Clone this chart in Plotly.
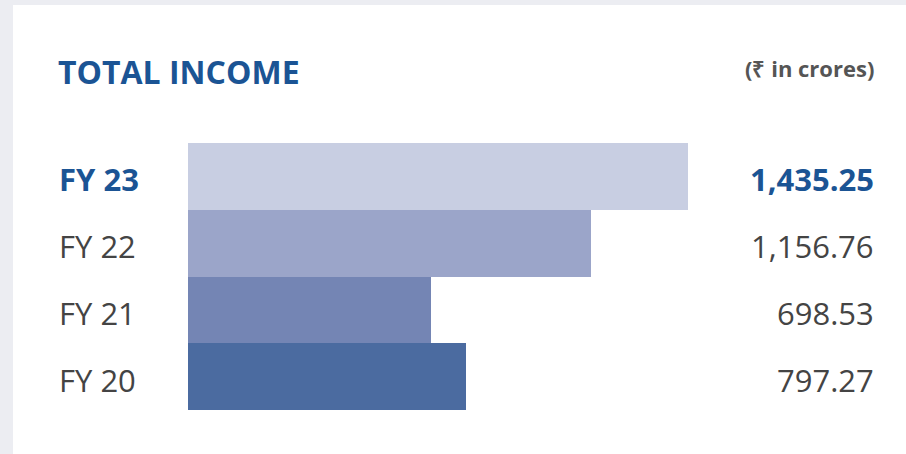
import plotly.graph_objects as go

categories = ["FY 20", "FY 21", "FY 22", "FY 23"]
values = [797.27, 698.53, 1156.76, 1435.25]
value_labels = ["797.27", "698.53", "1,156.76", "1,435.25"]
bar_colors = ["#4B6BA0", "#7485B4", "#9BA5C9", "#C8CEE2"]
highlight = "FY 23"

W, H = 906, 454
BLUE = "#1B5494"
GREY = "#444444"
FONT = "Open Sans"

fig = go.Figure()
fig.add_trace(go.Bar(
    y=categories, x=values, orientation="h",
    marker=dict(color=bar_colors, line=dict(width=0)),
    hoverinfo="skip", showlegend=False,
))

annotations = []
for cat, lab in zip(categories, value_labels):
    hl = cat == highlight
    annotations.append(dict(
        xref="paper", yref="y", x=57 / W, y=cat, xanchor="left", yanchor="middle",
        yshift=-3, text=f"<b>{cat}</b>" if hl else cat, showarrow=False,
        font=dict(family=FONT, size=31, color=BLUE if hl else GREY)))
    annotations.append(dict(
        xref="paper", yref="y", x=876 / W, y=cat, xanchor="right", yanchor="middle",
        yshift=-3, text=f"<b>{lab}</b>" if hl else lab, showarrow=False,
        font=dict(family=FONT, size=31, color=BLUE if hl else GREY)))

annotations.append(dict(
    xref="paper", yref="paper", x=56 / W, y=1 - 71 / H, xanchor="left", yanchor="middle",
    text="<b>TOTAL INCOME</b>", showarrow=False,
    font=dict(family=FONT, size=32, color=BLUE)))
annotations.append(dict(
    xref="paper", yref="paper", x=876 / W, y=1 - 68 / H, xanchor="right", yanchor="middle",
    text="<b>(₹ in crores)</b>", showarrow=False,
    font=dict(family=FONT, size=22, color="#555555")))

shapes = [
    dict(type="rect", xref="paper", yref="paper", x0=0, x1=1, y0=1 - 5 / H, y1=1,
         fillcolor="#ECEDF2", line=dict(width=0), layer="below"),
    dict(type="rect", xref="paper", yref="paper", x0=0, x1=13 / W, y0=0, y1=1,
         fillcolor="#ECEDF2", line=dict(width=0), layer="below"),
]

fig.update_layout(
    width=W, height=H, autosize=False,
    margin=dict(l=0, r=0, t=0, b=0),
    paper_bgcolor="white", plot_bgcolor="rgba(0,0,0,0)",
    bargap=0,
    xaxis=dict(domain=[188 / W, 688 / W], range=[0, max(values)], visible=False, fixedrange=True),
    yaxis=dict(domain=[(H - 410) / H, (H - 143) / H], categoryorder="array",
               categoryarray=categories, visible=False, fixedrange=True),
    annotations=annotations, shapes=shapes,
)

fig.write_html("out.html", config={"displayModeBar": False},
               post_script="document.body.style.margin='0';document.body.style.overflow='hidden';")
